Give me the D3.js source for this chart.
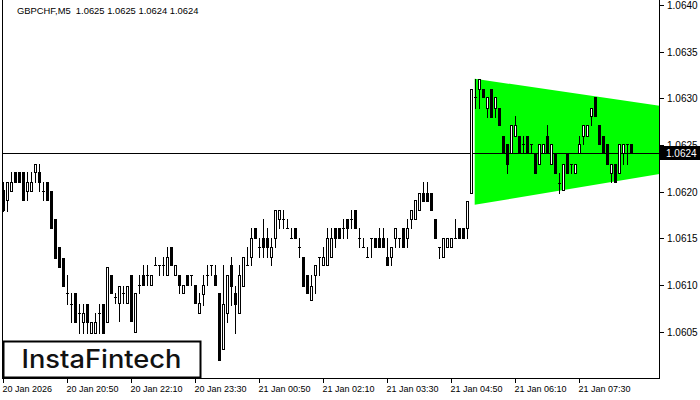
<!DOCTYPE html>
<html><head><meta charset="utf-8">
<script src="https://cdn.jsdelivr.net/npm/d3@7"></script>
<style>html,body{margin:0;padding:0;background:#fff;overflow:hidden}</style>
</head><body>
<svg id="c" width="700" height="400" xmlns="http://www.w3.org/2000/svg"></svg>
<script>
// ---------- DATA ----------
const symbol = "GBPCHF,M5";
const startTime = "2026-01-20T19:30:00Z";   // first bar
const barMinutes = 5;

const open = [1.06202,1.06191,1.06201,1.06221,1.06221,1.06221,1.06201,1.06201,1.06221,1.06221,
1.06201,1.06210,1.06201,1.06171,1.06141,1.06129,1.06091,1.06080,1.06091,1.06070,
1.06060,1.06080,1.06049,1.06049,1.06070,1.06080,1.06060,1.06111,1.06087,1.06081,
1.06092,1.06081,1.06111,1.06050,1.06100,1.06111,1.06111,1.06100,1.06121,1.06121,
1.06121,1.06111,1.06141,1.06111,1.06111,1.06092,1.06111,1.06111,1.06100,1.06070,
1.06090,1.06111,1.06121,1.06111,1.06091,1.06031,1.06070,1.06121,1.06091,1.06070,
1.06099,1.06121,1.06130,1.06161,1.06141,1.06150,1.06150,1.06130,1.06150,1.06171,
1.06171,1.06161,1.06150,1.06161,1.06141,1.06130,1.06111,1.06084,1.06111,1.06130,
1.06121,1.06121,1.06130,1.06161,1.06161,1.06161,1.06171,1.06171,1.06180,1.06150,
1.06141,1.06130,1.06150,1.06150,1.06150,1.06150,1.06130,1.06130,1.06150,1.06150,
1.06161,1.06150,1.06171,1.06171,1.06180,1.06199,1.06199,1.06199,1.06171,1.06141,
1.06130,1.06141,1.06141,1.06150,1.06161,1.06161,1.06161,1.06199,1.06301,1.06310,
1.06310,1.06290,1.06310,1.06290,1.06290,1.06260,1.06251,1.06241,1.06260,1.06260,
1.06251,1.06260,1.06251,1.06241,1.06230,1.06241,1.06260,1.06230,1.06241,1.06209,
1.06202,1.06241,1.06230,1.06220,1.06241,1.06260,1.06260,1.06281,1.06301,1.06271,
1.06260,1.06251,1.06220,1.06230,1.06220,1.06241,1.06251,1.06251];

const high = [1.06210,1.06210,1.06221,1.06221,1.06221,1.06221,1.06221,1.06221,1.06230,1.06230,
1.06210,1.06210,1.06201,1.06171,1.06141,1.06129,1.06111,1.06091,1.06091,1.06080,
1.06080,1.06080,1.06060,1.06070,1.06080,1.06080,1.06119,1.06111,1.06091,1.06099,
1.06099,1.06099,1.06111,1.06092,1.06111,1.06121,1.06121,1.06111,1.06130,1.06121,
1.06130,1.06141,1.06141,1.06121,1.06111,1.06100,1.06111,1.06111,1.06100,1.06092,
1.06111,1.06121,1.06121,1.06121,1.06091,1.06121,1.06111,1.06130,1.06099,1.06121,
1.06130,1.06141,1.06161,1.06161,1.06150,1.06171,1.06161,1.06150,1.06180,1.06180,
1.06180,1.06171,1.06161,1.06161,1.06150,1.06130,1.06111,1.06111,1.06121,1.06130,
1.06141,1.06161,1.06161,1.06161,1.06161,1.06171,1.06171,1.06180,1.06180,1.06161,
1.06150,1.06141,1.06150,1.06150,1.06161,1.06161,1.06150,1.06141,1.06161,1.06150,
1.06161,1.06171,1.06180,1.06191,1.06199,1.06210,1.06210,1.06199,1.06171,1.06141,
1.06150,1.06150,1.06150,1.06171,1.06161,1.06161,1.06190,1.06310,1.06321,1.06321,
1.06310,1.06301,1.06310,1.06301,1.06290,1.06260,1.06251,1.06271,1.06281,1.06260,
1.06260,1.06260,1.06251,1.06241,1.06251,1.06251,1.06271,1.06251,1.06241,1.06220,
1.06230,1.06241,1.06230,1.06230,1.06260,1.06271,1.06271,1.06290,1.06301,1.06271,
1.06260,1.06251,1.06230,1.06230,1.06251,1.06251,1.06251,1.06251];

const low = [1.06179,1.06179,1.06201,1.06210,1.06210,1.06191,1.06191,1.06201,1.06210,1.06201,
1.06191,1.06191,1.06161,1.06129,1.06119,1.06099,1.06080,1.06060,1.06060,1.06049,
1.06049,1.06049,1.06049,1.06049,1.06049,1.06049,1.06060,1.06091,1.06081,1.06061,
1.06081,1.06081,1.06061,1.06050,1.06092,1.06100,1.06100,1.06100,1.06121,1.06111,
1.06111,1.06111,1.06121,1.06111,1.06092,1.06092,1.06100,1.06100,1.06081,1.06070,
1.06079,1.06100,1.06111,1.06100,1.06020,1.06031,1.06060,1.06079,1.06049,1.06070,
1.06099,1.06121,1.06121,1.06150,1.06130,1.06130,1.06130,1.06121,1.06141,1.06161,
1.06161,1.06161,1.06150,1.06150,1.06130,1.06099,1.06091,1.06084,1.06091,1.06111,
1.06121,1.06121,1.06130,1.06141,1.06150,1.06150,1.06150,1.06161,1.06161,1.06141,
1.06141,1.06130,1.06130,1.06141,1.06141,1.06141,1.06121,1.06121,1.06141,1.06141,
1.06141,1.06141,1.06161,1.06171,1.06180,1.06190,1.06190,1.06180,1.06150,1.06129,
1.06130,1.06141,1.06141,1.06150,1.06150,1.06150,1.06150,1.06199,1.06290,1.06290,
1.06301,1.06280,1.06280,1.06280,1.06271,1.06241,1.06220,1.06241,1.06260,1.06241,
1.06241,1.06241,1.06241,1.06220,1.06230,1.06241,1.06241,1.06230,1.06220,1.06199,
1.06202,1.06220,1.06220,1.06220,1.06241,1.06251,1.06260,1.06271,1.06281,1.06251,
1.06241,1.06230,1.06210,1.06210,1.06220,1.06230,1.06230,1.06241];

const close = [1.06180,1.06210,1.06210,1.06210,1.06210,1.06191,1.06210,1.06210,1.06230,1.06210,
1.06201,1.06191,1.06161,1.06129,1.06119,1.06099,1.06091,1.06080,1.06060,1.06070,
1.06070,1.06060,1.06060,1.06060,1.06070,1.06049,1.06119,1.06091,1.06087,1.06099,
1.06092,1.06099,1.06061,1.06092,1.06100,1.06100,1.06111,1.06111,1.06121,1.06121,
1.06121,1.06130,1.06121,1.06121,1.06100,1.06100,1.06100,1.06111,1.06081,1.06081,
1.06100,1.06111,1.06121,1.06100,1.06020,1.06080,1.06111,1.06099,1.06080,1.06111,
1.06130,1.06121,1.06150,1.06150,1.06141,1.06141,1.06141,1.06141,1.06180,1.06180,
1.06171,1.06161,1.06150,1.06150,1.06141,1.06099,1.06091,1.06099,1.06121,1.06130,
1.06130,1.06150,1.06150,1.06150,1.06150,1.06161,1.06161,1.06171,1.06161,1.06150,
1.06141,1.06130,1.06150,1.06141,1.06141,1.06141,1.06121,1.06141,1.06161,1.06150,
1.06141,1.06161,1.06180,1.06191,1.06199,1.06190,1.06190,1.06180,1.06150,1.06141,
1.06150,1.06150,1.06150,1.06150,1.06150,1.06150,1.06190,1.06310,1.06301,1.06321,
1.06301,1.06301,1.06280,1.06301,1.06271,1.06241,1.06230,1.06271,1.06271,1.06241,
1.06251,1.06241,1.06251,1.06220,1.06251,1.06251,1.06241,1.06251,1.06220,1.06209,
1.06230,1.06220,1.06230,1.06230,1.06251,1.06271,1.06271,1.06290,1.06281,1.06251,
1.06241,1.06230,1.06230,1.06210,1.06251,1.06251,1.06251,1.06241];

const headerValues = ["1.0625", "1.0625", "1.0624", "1.0624"];
const priceLabel = "1.0624";

const yTicks = [1.0605, 1.0610, 1.0615, 1.0620, 1.0625, 1.0630, 1.0635, 1.0640];
const xTickTimes = ["2026-01-20T19:30:00Z","2026-01-20T20:50:00Z","2026-01-20T22:10:00Z","2026-01-20T23:30:00Z",
  "2026-01-21T00:50:00Z","2026-01-21T02:10:00Z","2026-01-21T03:30:00Z","2026-01-21T04:50:00Z",
  "2026-01-21T06:10:00Z","2026-01-21T07:30:00Z"];
const xTickLabels = ["20 Jan 2026","20 Jan 20:50","20 Jan 22:10","20 Jan 23:30","21 Jan 00:50",
  "21 Jan 02:10","21 Jan 03:30","21 Jan 04:50","21 Jan 06:10","21 Jan 07:30"];

// symmetrical triangle pattern (time, upper, lower)
const patternTimes = ["2026-01-21T05:19:00Z", "2026-01-21T09:10:00Z"];
const patternUpper = [1.06321, 1.06292];
const patternLower = [1.06186, 1.06219];

const logoText = "InstaFintech";

// ---------- CHART ----------
const W = 700, H = 400;
const plotLeft = 2.5, plotRight = 659.5, plotBottom = 378.5;
const svg = d3.select("#c");
const t0 = new Date(startTime);
const nSlots = 164;
const x = d3.scaleUtc()
  .domain([t0, d3.utcMinute.offset(t0, nSlots * barMinutes)])
  .range([3.5, 659.5]);
const y = d3.scaleLinear().domain([1.0600, 1.0640]).range([378.4, 5]);

const bars = open.map((o, i) => ({
  t: d3.utcMinute.offset(t0, i * barMinutes), o, h: high[i], l: low[i], c: close[i]
}));

svg.append("rect").attr("width", W).attr("height", H).attr("fill", "#fff");

svg.append("defs").append("clipPath").attr("id", "plotClip")
  .append("rect").attr("x", plotLeft).attr("y", 0).attr("width", plotRight - plotLeft).attr("height", plotBottom);

// pattern
const pts = [
  [x(new Date(patternTimes[0])), y(patternUpper[0])],
  [x(new Date(patternTimes[1])), y(patternUpper[1])],
  [x(new Date(patternTimes[1])), y(patternLower[1])],
  [x(new Date(patternTimes[0])), y(patternLower[0])]
];
svg.append("g").attr("clip-path", "url(#plotClip)")
  .append("polygon").attr("points", pts.map(p => p.join(",")).join(" "))
  .attr("fill", "#00ff00");

// current price line
const lastClose = close[close.length - 1];
const yp = Math.round(y(lastClose)) + 0.5;
svg.append("line").attr("x1", plotLeft).attr("x2", plotRight).attr("y1", yp).attr("y2", yp)
  .attr("stroke", "#000").attr("stroke-width", 1).attr("shape-rendering", "crispEdges");

// candles
const cg = svg.append("g").attr("shape-rendering", "crispEdges");
const cand = cg.selectAll("g.c").data(bars).join("g").attr("class", "c");
cand.each(function(d) {
  const g = d3.select(this);
  const cx = Math.floor(x(d.t)) + 0.5;
  const yh = Math.round(y(d.h)), yl = Math.round(y(d.l));
  const yo = Math.round(y(d.o)), yc = Math.round(y(d.c));
  g.append("line").attr("x1", cx).attr("x2", cx).attr("y1", yh).attr("y2", yl + 1)
    .attr("stroke", "#000").attr("stroke-width", 1);
  if (yo === yc) {
    g.append("line").attr("x1", cx - 1.5).attr("x2", cx + 1.5).attr("y1", yo + 0.5).attr("y2", yo + 0.5)
      .attr("stroke", "#000").attr("stroke-width", 1);
  } else if (d.c < d.o) {
    g.append("rect").attr("x", cx - 1.5).attr("y", yo).attr("width", 3).attr("height", yc - yo + 1)
      .attr("fill", "#000");
  } else {
    g.append("rect").attr("x", cx - 1).attr("y", yc + 0.5).attr("width", 2).attr("height", yo - yc)
      .attr("fill", "#fff").attr("stroke", "#000").attr("stroke-width", 1);
  }
});

// frame lines
svg.append("line").attr("x1", plotLeft).attr("x2", plotLeft).attr("y1", 0).attr("y2", plotBottom)
  .attr("stroke", "#000").attr("shape-rendering", "crispEdges");
svg.append("line").attr("x1", plotRight).attr("x2", plotRight).attr("y1", 0).attr("y2", plotBottom + 0.5)
  .attr("stroke", "#000").attr("shape-rendering", "crispEdges");
svg.append("line").attr("x1", plotLeft).attr("x2", plotRight).attr("y1", plotBottom).attr("y2", plotBottom)
  .attr("stroke", "#000").attr("shape-rendering", "crispEdges");

// y axis (right)
const yAxis = svg.append("g").attr("font-family", "'Liberation Sans', Arial, sans-serif").attr("font-size", 10);
yTicks.forEach(v => {
  const yy = Math.round(y(v)) + 0.5;
  yAxis.append("line").attr("x1", plotRight).attr("x2", plotRight + 4).attr("y1", yy).attr("y2", yy)
    .attr("stroke", "#000").attr("shape-rendering", "crispEdges");
  yAxis.append("text").attr("x", 667).attr("y", yy).attr("dy", "0.35em").attr("fill", "#000").text(d3.format(".4f")(v));
});
// price label
const py = y(lastClose);
svg.append("rect").attr("x", 660).attr("y", Math.round(py) - 7).attr("width", 40).attr("height", 14).attr("fill", "#000");
svg.append("text").attr("x", 666).attr("y", py).attr("dy", "0.36em").attr("fill", "#fff")
  .attr("font-family", "'Liberation Sans', Arial, sans-serif").attr("font-size", 10).text(priceLabel);

// x axis
const xAxis = svg.append("g").attr("font-family", "'Liberation Sans', Arial, sans-serif").attr("font-size", 9);
xTickTimes.forEach((s, i) => {
  const xx = Math.floor(x(new Date(s))) + 0.5;
  xAxis.append("line").attr("x1", xx).attr("x2", xx).attr("y1", plotBottom).attr("y2", plotBottom + 4)
    .attr("stroke", "#000").attr("shape-rendering", "crispEdges");
  xAxis.append("text").attr("x", xx - 1).attr("y", 392).attr("fill", "#000").text(xTickLabels[i]);
});

// header
svg.append("text").attr("x", 17).attr("y", 14).attr("font-family", "'Liberation Sans', Arial, sans-serif")
  .attr("font-size", 9.4).attr("fill", "#000").attr("xml:space", "preserve")
  .text(symbol + "  " + headerValues.join(" "));

// logo
svg.append("rect").attr("x", 3.5).attr("y", 341.5).attr("width", 197).attr("height", 36)
  .attr("fill", "#fff").attr("stroke", "#000").attr("stroke-width", 2);
svg.append("text").attr("x", 101.5).attr("y", 368).attr("text-anchor", "middle")
  .attr("font-family", "Inter, 'Open Sans', sans-serif").attr("font-weight", 500).attr("font-size", 25)
  .attr("fill", "#111").attr("textLength", 160).attr("lengthAdjust", "spacingAndGlyphs").text(logoText);
</script>
</body></html>
